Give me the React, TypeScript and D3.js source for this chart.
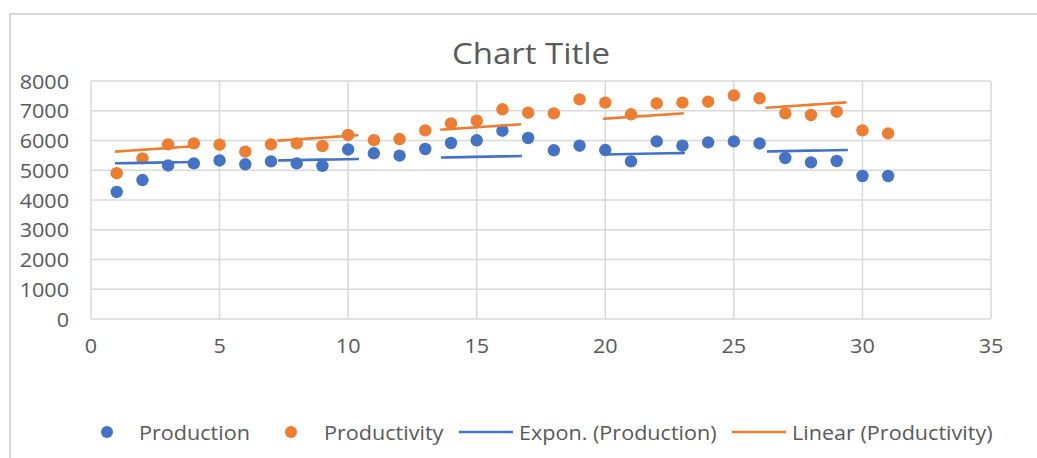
import React from "react";
import * as d3 from "d3";

const days = [1,2,3,4,5,6,7,8,9,10,11,12,13,14,15,16,17,18,19,20,21,22,23,24,25,26,27,28,29,30,31];
const production = [4270,4670,5160,5230,5330,5200,5300,5230,5150,5700,5570,5490,5714,5916,6006,6330,6084,5670,5826,5680,5300,5970,5826,5938,5970,5900,5412,5266,5311,4807,4807];
const productivity = [4900,5400,5870,5905,5860,5625,5870,5905,5815,6185,6010,6050,6342,6577,6666,7048,6935,6913,7384,7272,6880,7245,7272,7305,7518,7418,6913,6857,6968,6342,6241];
const xTicks = [0,5,10,15,20,25,30,35];
const yTicks = [0,1000,2000,3000,4000,5000,6000,7000,8000];
const title = "Chart Title";
const legendItems = ["Production","Productivity","Expon. (Production)","Linear (Productivity)"];

const BLUE = "#4472C4";
const ORANGE = "#ED7D31";
const GRID = "#d9d9d9";
const TEXT = "#595959";
const FONT = "'Open Sans', 'Segoe UI', sans-serif";

function linReg(xs: number[], ys: number[]) {
  const n = xs.length;
  const mx = d3.mean(xs)!, my = d3.mean(ys)!;
  let sxy = 0, sxx = 0;
  for (let i = 0; i < n; i++) { sxy += (xs[i]-mx)*(ys[i]-my); sxx += (xs[i]-mx)**2; }
  const b = sxy / sxx;
  return { a: my - b*mx, b };
}

function T(props: { x: number; y: number; anchor?: string; size?: number; sx?: number; children: any }) {
  const { x, y, anchor = "start", size = 20, sx = 1.08, children } = props;
  return (
    <text transform={`translate(${x},${y}) scale(${sx},1)`} textAnchor={anchor as any} dominantBaseline="central"
      fontFamily={FONT} fontSize={size} fill={TEXT}>{children}</text>
  );
}

export default function App() {
  const W = 1037, H = 458;
  const x = d3.scaleLinear().domain([0, 35]).range([91, 991]);
  const y = d3.scaleLinear().domain([0, 8000]).range([319, 81]);

  const lin = linReg(days, productivity);
  const ex = linReg(days, production.map(v => Math.log(v)));
  const x0 = d3.min(days)!, x1 = d3.max(days)!;
  const samples = d3.range(0, 61).map(i => x0 + (x1 - x0) * i / 60);
  const line = d3.line<[number, number]>().x(d => x(d[0])).y(d => y(d[1]));
  const linPath = line(samples.map(t => [t, lin.a + lin.b * t]))!;
  const expPath = line(samples.map(t => [t, Math.exp(ex.a) * Math.exp(ex.b * t)]))!;

  const dash = "81 82";
  const ly = 432;

  return (
    <svg width={W} height={H} style={{ position: "absolute", left: 0, top: 0, background: "#fff" }}>
      <rect x={10} y={14} width={1100} height={500} fill="#fff" stroke={GRID} strokeWidth={2} />
      <T x={531} y={52} anchor="middle" size={30} sx={1.1}>{title}</T>
      {yTicks.map(t => (
        <line key={"gy" + t} x1={x(0)} x2={x(35)} y1={y(t)} y2={y(t)} stroke={GRID} strokeWidth={1.5} />
      ))}
      {xTicks.map(t => (
        <line key={"gx" + t} x1={x(t)} x2={x(t)} y1={y(0)} y2={y(8000)} stroke={GRID} strokeWidth={1.5} />
      ))}
      {yTicks.map(t => (
        <T key={"ty" + t} x={69} y={y(t)} anchor="end">{t}</T>
      ))}
      {xTicks.map(t => (
        <T key={"tx" + t} x={x(t)} y={345} anchor="middle">{t}</T>
      ))}
      {days.map((d, i) => (
        <circle key={"p" + i} cx={x(d)} cy={y(production[i])} r={6.2} fill={BLUE} />
      ))}
      {days.map((d, i) => (
        <circle key={"q" + i} cx={x(d)} cy={y(productivity[i])} r={6.2} fill={ORANGE} />
      ))}
      <path d={expPath} fill="none" stroke={BLUE} strokeWidth={2.6} strokeDasharray={dash} transform="translate(-1.7,0)" />
      <path d={linPath} fill="none" stroke={ORANGE} strokeWidth={2.6} strokeDasharray={dash} transform="translate(-1.7,0)" />
      <circle cx={107} cy={ly} r={6} fill={BLUE} />
      <T x={139} y={ly}>{legendItems[0]}</T>
      <circle cx={291} cy={ly} r={6} fill={ORANGE} />
      <T x={324} y={ly}>{legendItems[1]}</T>
      <line x1={459} x2={513} y1={ly} y2={ly} stroke={BLUE} strokeWidth={2.6} />
      <T x={519} y={ly}>{legendItems[2]}</T>
      <line x1={732} x2={786} y1={ly} y2={ly} stroke={ORANGE} strokeWidth={2.6} />
      <T x={792} y={ly}>{legendItems[3]}</T>
    </svg>
  );
}
